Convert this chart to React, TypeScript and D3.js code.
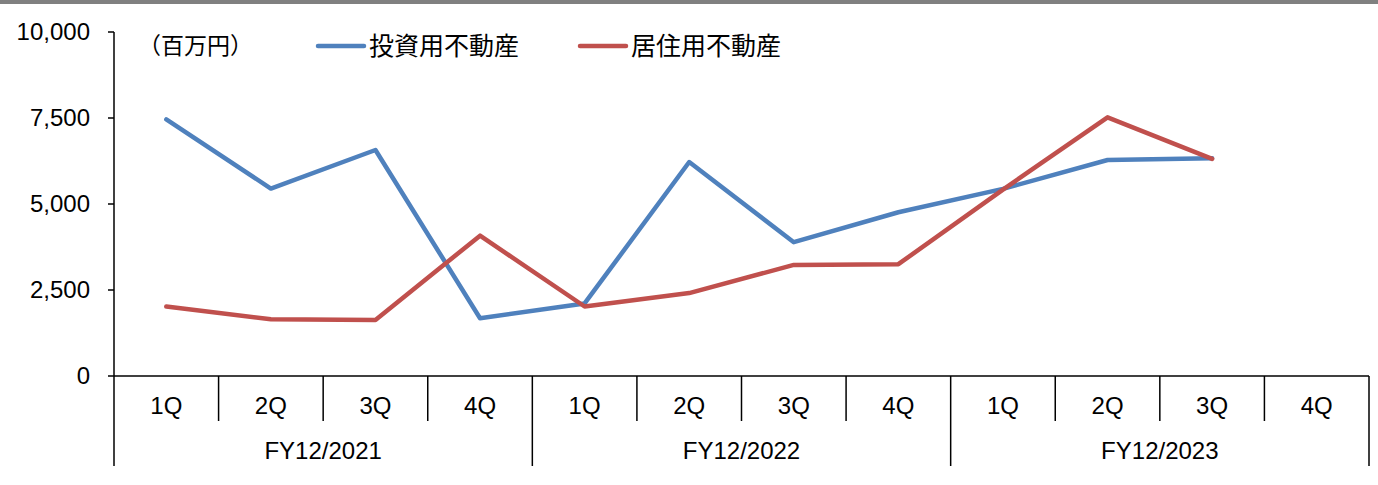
import React from "react";
import * as d3 from "d3";

const quarters = ["1Q", "2Q", "3Q", "4Q", "1Q", "2Q", "3Q", "4Q", "1Q", "2Q", "3Q", "4Q"];
const years = ["FY12/2021", "FY12/2022", "FY12/2023"];
const investment: (number | null)[] = [7460, 5450, 6570, 1680, 2110, 6220, 3890, 4760, 5440, 6280, 6330, null];
const residential: (number | null)[] = [2020, 1650, 1630, 4080, 2020, 2410, 3230, 3250, 5420, 7520, 6310, null];
const yTicks = [0, 2500, 5000, 7500, 10000];
const seriesNames = ["投資用不動産", "居住用不動産"];
const unitLabel = "（百万円）";

const W = 1378, H = 485;
const left = 114, right = 1369, top = 32, bottom = 376;
const font = "Liberation Sans, Arial, sans-serif";
const cjkFont = "'Noto Sans CJK JP', sans-serif";
const colors = ["#4f81bd", "#c0504d"];

export default function App() {
  const x = d3.scaleBand<number>().domain(d3.range(quarters.length)).range([left, right]).padding(0);
  const y = d3.scaleLinear().domain([0, 10000]).range([bottom, top]);
  const fmt = d3.format(",");
  const line = d3
    .line<number | null>()
    .defined((d) => d != null)
    .x((_, i) => (x(i) as number) + x.bandwidth() / 2)
    .y((d) => y(d as number));
  const bw = x.bandwidth();
  return (
    <svg width={W} height={H} style={{ position: "absolute", left: 0, top: 0 }}>
      <rect x={0} y={0} width={W} height={H} fill="#fff" />
      <rect x={0} y={0} width={W} height={4} fill="#808080" />
      {/* y axis */}
      <line x1={left} x2={left} y1={top} y2={bottom} stroke="#000" strokeWidth={1.5} />
      {yTicks.map((t) => (
        <g key={t}>
          <line x1={left - 6} x2={left} y1={y(t)} y2={y(t)} stroke="#000" strokeWidth={1.5} />
          <text x={left - 24} y={y(t)} dy="0.35em" textAnchor="end" fontFamily={font} fontSize={24} fill="#000">
            {fmt(t)}
          </text>
        </g>
      ))}
      {/* x axis */}
      <line x1={left} x2={right} y1={bottom} y2={bottom} stroke="#000" strokeWidth={1.5} />
      {d3.range(quarters.length + 1).map((i) => {
        const xx = i < quarters.length ? (x(i) as number) : right;
        const isGroup = i % 4 === 0;
        return (
          <line key={i} x1={xx} x2={xx} y1={bottom} y2={isGroup ? 466 : 421} stroke="#000" strokeWidth={1.5} />
        );
      })}
      {quarters.map((q, i) => (
        <text key={i} x={(x(i) as number) + bw / 2} y={406} dy="0.35em" textAnchor="middle" fontFamily={font} fontSize={24} fill="#000">
          {q}
        </text>
      ))}
      {years.map((yr, j) => (
        <text key={yr} x={(x(j * 4) as number) + bw * 2} y={451} dy="0.35em" textAnchor="middle" fontFamily={font} fontSize={24} fill="#000">
          {yr}
        </text>
      ))}
      {/* lines */}
      {[investment, residential].map((s, k) => (
        <path key={k} d={line(s) || ""} fill="none" stroke={colors[k]} strokeWidth={4.5} strokeLinejoin="round" strokeLinecap="round" />
      ))}
      {/* legend */}
      <text x={138} y={46} dy="0.35em" fontFamily={cjkFont} fontSize={23} fill="#000">
        {unitLabel}
      </text>
      {seriesNames.map((n, k) => {
        const lx = k === 0 ? 318 : 580;
        return (
          <g key={n}>
            <line x1={lx} x2={lx + 46} y1={46} y2={46} stroke={colors[k]} strokeWidth={4.5} strokeLinecap="round" />
            <text x={lx + 51} y={46} dy="0.35em" fontFamily={cjkFont} fontSize={25} fill="#000">
              {n}
            </text>
          </g>
        );
      })}
    </svg>
  );
}
